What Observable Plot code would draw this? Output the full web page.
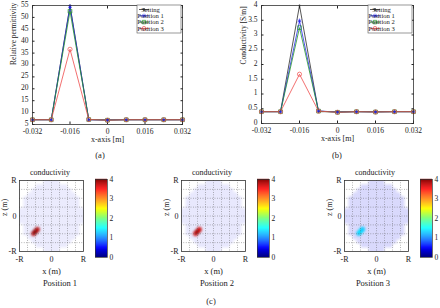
<!DOCTYPE html>
<html>
<head>
<meta charset="utf-8">
<script src="https://cdn.jsdelivr.net/npm/d3@7"></script>
<script src="https://cdn.jsdelivr.net/npm/@observablehq/plot@0.6"></script>
<style>
  body { margin: 0; background: #fff; }
  #fig { position: relative; width: 440px; height: 308px; overflow: hidden; background: #fff;
         font-family: "Liberation Serif", "Times New Roman", serif; color: #222; }
  .slot { position: absolute; }
  .slot svg { display: block; max-width: none; }
  .cap { position: absolute; font-size: 8.5px; transform: translate(-50%, -50%); white-space: nowrap; color: #222; }
</style>
</head>
<body>
<div id="fig"></div>
<script>
// ---- profile data along the x-axis ----
const xPositions = [-0.032, -0.024, -0.016, -0.008, 0, 0.008, 0.016, 0.024, 0.032];
const xTicks = [-0.032, -0.016, 0, 0.016, 0.032];
const seriesNames = ["Setting", "Position 1", "Position 2", "Position 3"];

const permSetting   = [7, 7, 55,   7,   7,   7, 7, 7, 7];
const permPosition1 = [7, 7, 54.6, 7,   6.8, 7, 7, 7, 7];
const permPosition2 = [7, 7, 52.6, 7.1, 6.8, 7, 7, 7, 7];
const permPosition3 = [7, 7, 36.6, 7.1, 6.8, 7, 7, 7, 7];
const permTicks = [5, 10, 15, 20, 25, 30, 35, 40, 45, 50, 55];

const condSetting   = [0.4, 0.4, 4,    0.4,  0.4,  0.4, 0.4,  0.4, 0.4];
const condPosition1 = [0.4, 0.4, 3.48, 0.43, 0.38, 0.4, 0.39, 0.4, 0.4];
const condPosition2 = [0.4, 0.4, 3.25, 0.42, 0.38, 0.4, 0.39, 0.4, 0.4];
const condPosition3 = [0.4, 0.4, 1.67, 0.42, 0.38, 0.4, 0.39, 0.4, 0.4];
const condTicks = [0, 0.5, 1, 1.5, 2, 2.5, 3, 3.5, 4];

// ---- reconstructed conductivity maps ----
const R = 0.032;
const mapNames = ["Position 1", "Position 2", "Position 3"];
const mapTitle = "conductivity";
const backgroundSigma = [0.4, 0.4, 0.4];
const inclusionX = [[-0.0178, -0.016, -0.0142], [-0.0178, -0.016, -0.0142], [-0.0176, -0.0158, -0.014]];
const inclusionZ = [[-0.0158, -0.014, -0.0122], [-0.0158, -0.014, -0.0122], [-0.0156, -0.0138, -0.012]];
const inclusionSigma = [[3.8, 4, 3.8], [3.7, 3.9, 3.7], [1.3, 1.4, 1.3]];
const mapTicks = [-R, 0, R];
const mapTickLabels = ["-R", "0", "R"];
const gridFractions = [-0.75, -0.5, -0.25, 0, 0.25, 0.5, 0.75];
const colorbarTicks = [0, 1, 2, 3, 4];

// ---- styling ----
const FONT = '"Liberation Serif", "Times New Roman", serif';
const INK = "#222";
const seriesColors = ["#2b2b2b", "#2424ee", "#23962b", "#ef4b4b"];
const seriesSymbols = ["circle", "asterisk", "square", "circle"];
const backgroundOpacity = [0.08, 0.09, 0.15];

const fig = document.getElementById("fig");
function place(node, left, top, w, h) {
  const d = document.createElement("div");
  d.className = "slot";
  Object.assign(d.style, {left: left + "px", top: top + "px", width: w + "px", height: h + "px"});
  d.appendChild(node);
  fig.appendChild(d);
}
function caption(text, cx, cy, size) {
  const d = document.createElement("div");
  d.className = "cap";
  Object.assign(d.style, {left: cx + "px", top: cy + "px"});
  if (size) d.style.fontSize = size + "px";
  d.textContent = text;
  fig.appendChild(d);
}

// MATLAB-style jet colormap
function jet(t) {
  const c = v => Math.max(0, Math.min(1, v));
  const r = c(1.5 - Math.abs(4 * t - 3)), g = c(1.5 - Math.abs(4 * t - 2)), b = c(1.5 - Math.abs(4 * t - 1));
  return `rgb(${Math.round(r * 255)},${Math.round(g * 255)},${Math.round(b * 255)})`;
}
const colorScale = {type: "linear", domain: [0, 4], interpolate: jet};
const baseStyle = {fontFamily: FONT, fontSize: "7.5px", color: INK, background: "transparent", overflow: "visible"};
const fmt = d => String(d);

function addLegend(svg, frameRight, frameTop) {
  const g = d3.select(svg).append("g").attr("font-family", FONT).attr("font-size", 6.6).attr("fill", INK);
  const w = 44, h = 28, x0 = frameRight - w - 1, y0 = frameTop;
  g.append("rect").attr("x", x0).attr("y", y0).attr("width", w).attr("height", h)
    .attr("fill", "#fff").attr("stroke", "#555").attr("stroke-width", 0.6);
  const syms = {circle: d3.symbolCircle, asterisk: d3.symbolAsterisk, square: d3.symbolSquare};
  seriesNames.forEach((name, i) => {
    const y = y0 + 4.5 + i * 6.3;
    g.append("line").attr("x1", x0 + 2).attr("x2", x0 + 12).attr("y1", y).attr("y2", y)
      .attr("stroke", seriesColors[i]).attr("stroke-width", 0.8);
    const size = i === 0 ? 2.5 : 12;
    g.append("path").attr("transform", `translate(${x0 + 7},${y})`)
      .attr("d", d3.symbol(syms[seriesSymbols[i]], size)())
      .attr("fill", i === 0 ? seriesColors[i] : "none").attr("stroke", seriesColors[i]).attr("stroke-width", 0.7);
    g.append("text").attr("x", x0 + 13.5).attr("y", y).attr("dy", "0.34em").text(name);
  });
}

function profileChart(values, {yDomain, yTicks, yLabel, marginLeft, marginRight, marginBottom, yLabelDx}) {
  const W = 220, H = 150, marginTop = 5;
  const rows = seriesNames.flatMap((name, s) => xPositions.map((x, i) => ({name, x, v: values[s][i]})));
  const setting = rows.filter(d => d.name === "Setting");
  const estimates = rows.filter(d => d.name !== "Setting");
  const blank = () => "";
  const svg = Plot.plot({
    width: W, height: H, marginLeft, marginRight, marginTop, marginBottom,
    style: baseStyle,
    x: {domain: [-0.032, 0.032]},
    y: {domain: yDomain},
    color: {domain: seriesNames, range: seriesColors},
    symbol: {domain: seriesNames, range: seriesSymbols},
    marks: [
      Plot.axisX(xTicks, {tickSize: 0, tickPadding: 4, tickFormat: fmt, label: null, fill: INK}),
      Plot.axisX(xTicks, {tickSize: -2.5, tickFormat: blank, label: null}),
      Plot.axisX(xTicks, {anchor: "top", tickSize: -2.5, tickFormat: blank, label: null}),
      Plot.axisY(yTicks, {tickSize: 0, tickPadding: 4, dy: -1, tickFormat: fmt, label: null, fill: INK}),
      Plot.axisY(yTicks, {tickSize: -2.5, tickFormat: blank, label: null}),
      Plot.axisY(yTicks, {anchor: "right", tickSize: -2.5, tickFormat: blank, label: null}),
      Plot.line(rows, {x: "x", y: "v", z: "name", stroke: "name", strokeWidth: 0.8}),
      Plot.dot(setting, {x: "x", y: "v", r: 0.9, fill: "name"}),
      Plot.dot(estimates, {x: "x", y: "v", symbol: "name", stroke: "name", fill: "none", r: 2.1, strokeWidth: 0.7}),
      Plot.frame({stroke: "#333", strokeWidth: 0.8}),
      Plot.text([yLabel], {frameAnchor: "left", dx: yLabelDx, rotate: -90, text: d => d, fontSize: 7.5, fill: INK}),
      Plot.text(["x-axis [m]"], {frameAnchor: "bottom", dy: 17.5, text: d => d, fontSize: 8, fill: INK})
    ]
  });
  addLegend(svg, W - marginRight, marginTop);
  return svg;
}

function mapPanel(k) {
  const blob = inclusionX[k].map((x, i) => ({x, z: inclusionZ[k][i], s: inclusionSigma[k][i]}));
  const grid = gridFractions.map(f => f * R);
  const svg = Plot.plot({
    width: 89, height: 125, marginLeft: 19, marginRight: 6, marginTop: 20, marginBottom: 34,
    style: {...baseStyle, fontSize: "8px"},
    x: {domain: [-R, R]},
    y: {domain: [-R, R]},
    color: colorScale,
    marks: [
      Plot.raster({
        fill: (x, y) => Math.hypot(x, y) <= R * 0.97 ? backgroundSigma[k] : NaN,
        x1: -R, x2: R, y1: -R, y2: R, pixelSize: 4, opacity: backgroundOpacity[k]
      }),
      Plot.dot(blob, {x: "x", y: "z", fill: "s", r: 2.7, fillOpacity: 0.8}),
      Plot.gridX(grid, {stroke: "#555", strokeOpacity: 0.9, strokeWidth: 0.6, strokeDasharray: "0.8,1.6"}),
      Plot.gridY(grid, {stroke: "#555", strokeOpacity: 0.9, strokeWidth: 0.6, strokeDasharray: "0.8,1.6"}),
      Plot.frame({stroke: "#333", strokeWidth: 0.8}),
      Plot.axisX(mapTicks, {tickSize: 0, tickPadding: 5, tickFormat: (d, i) => mapTickLabels[i], label: null, fill: INK}),
      Plot.axisY(mapTicks, {tickSize: 0, tickPadding: 3, tickFormat: (d, i) => mapTickLabels[i], label: null, fill: INK}),
      Plot.text(["z (m)"], {frameAnchor: "left", dx: -15, rotate: -90, text: d => d, fontSize: 8, fill: INK}),
      Plot.text(["x (m)"], {frameAnchor: "bottom", dy: 22, text: d => d, fontSize: 8.5, fill: INK})
    ]
  });
  d3.select(svg).selectAll('g[aria-label="dot"]').style("filter", "blur(1.3px)");
  d3.select(svg).selectAll('g[aria-label="raster"]').style("filter", "blur(0.7px)");
  return svg;
}

function colorbar() {
  const step = 0.05;
  const stops = d3.range(0, 4, step);
  return Plot.plot({
    width: 30, height: 100, marginLeft: 1, marginRight: 17, marginTop: 9, marginBottom: 13,
    style: baseStyle,
    y: {domain: [0, 4]},
    color: colorScale,
    marks: [
      Plot.rect(stops, {y1: d => d, y2: d => d + step * 1.2, fill: d => d + step / 2}),
      Plot.frame({stroke: "#333", strokeWidth: 0.7}),
      Plot.axisY(colorbarTicks, {anchor: "right", tickSize: 0, tickPadding: 2, tickFormat: fmt, label: null, fontSize: 7.5, fill: INK})
    ]
  });
}

// (a) relative permittivity profile
place(profileChart([permSetting, permPosition1, permPosition2, permPosition3], {
  yDomain: [5, 55], yTicks: permTicks, yLabel: "Relative permittivity",
  marginLeft: 32, marginRight: 38, marginBottom: 26, yLabelDx: -19
}), 0, 0, 220, 150);

// (b) conductivity profile
place(profileChart([condSetting, condPosition1, condPosition2, condPosition3], {
  yDomain: [0, 4], yTicks: condTicks, yLabel: "Conductivity [S/m]",
  marginLeft: 41, marginRight: 27, marginBottom: 27, yLabelDx: -18
}), 220, 0, 220, 150);

// (c) reconstructed maps with colour bars
const frameLefts = [19, 181, 344];
const captionCenters = [60, 217, 373];
frameLefts.forEach((fl, k) => {
  place(mapPanel(k), fl - 19, 160, 89, 125);
  place(colorbar(), fl + 75, 170, 30, 100);
  caption(mapTitle, fl + 31, 172, 8);
  caption(mapNames[k], captionCenters[k], 283, 8.5);
});

caption("(a)", 100, 155);
caption("(b)", 337, 155);
caption("(c)", 211, 301);
</script>
</body>
</html>
